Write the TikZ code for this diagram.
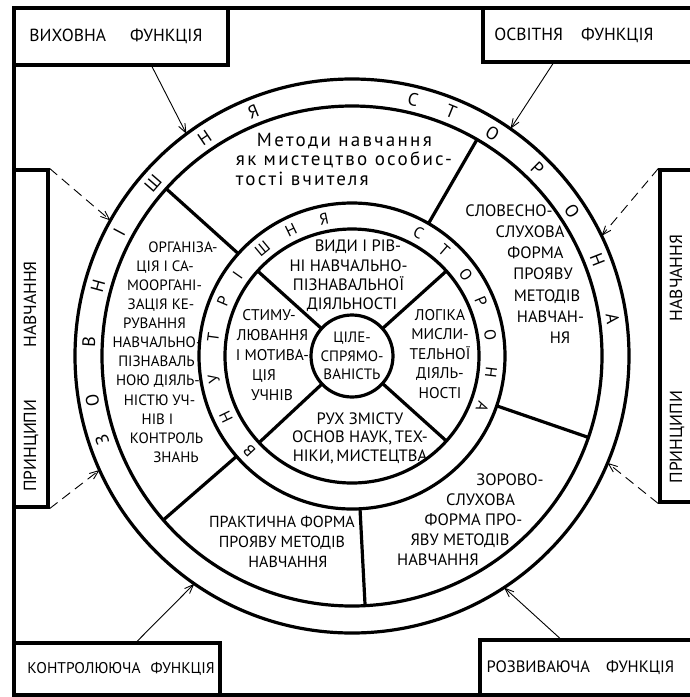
\documentclass[tikz,border=0pt]{standalone}
\usepackage{fontspec}
\setmainfont{PT Sans}
\usetikzlibrary{arrows.meta}

% shift one line of a centred block sideways
\newcommand{\mv}[2]{\hspace*{#1pt}#2\hspace*{-#1pt}}

\tikzset{
  ring/.style={line width=3.2pt},
  sectxt/.style={font=\fontsize{16}{20}\selectfont, align=center, inner sep=0pt},
  ringchar/.style={font=\fontsize{18}{18}\selectfont, inner sep=0pt},
  funcbox/.style={draw, line width=3.2pt, inner sep=0pt, font=\fontsize{17.5}{17.5}\selectfont},
  arr/.style={line width=0.9pt, -{Straight Barb[length=9pt,width=7pt]}},
  darr/.style={arr, dash pattern=on 10pt off 6pt}
}

\begin{document}
\begin{tikzpicture}[x=1pt, y=-1pt]
  \useasboundingbox (0,0) rectangle (689,697);
  \draw[line width=3.2pt] (14,8) rectangle (705,695);

  % functions and principles
  \node[funcbox, minimum width=214, minimum height=57] (vykh) at (121,36.5) {\mv{-5}{ВИХОВНА\hspace{24pt}ФУНКЦІЯ}};
  \node[funcbox, minimum width=222, minimum height=54] (osvit) at (594,35) {\mv{-20}{ОСВІТНЯ\hspace{18pt}ФУНКЦІЯ}};
  \node[funcbox, minimum width=206, minimum height=52, font=\fontsize{15.5}{15.5}\selectfont] (kontr) at (117,669)
    {\mv{4}{КОНТРОЛЮЮЧА\hspace{10pt}ФУНКЦІЯ}};
  \node[funcbox, minimum width=225, minimum height=55, font=\fontsize{16.5}{16.5}\selectfont] (rozv) at (592.5,667.5)
    {\mv{-12}{РОЗВИВАЮЧА\hspace{16pt}ФУНКЦІЯ}};
  \node[funcbox, rotate=90, minimum width=337, minimum height=34] (prl) at (31,338.5) {\mv{-38}{ПРИНЦИПИ\hspace{52pt}НАВЧАННЯ}};
  \node[funcbox, rotate=90, minimum width=332, minimum height=34] (prr) at (677,336) {\mv{-23}{ПРИНЦИПИ\hspace{70pt}НАВЧАННЯ}};

  % rings and sectors
  \begin{scope}[shift={(352,356)}, yscale=-1]
    \draw[ring] (0,0) circle (277) (0,0) circle (250) (0,0) circle (153) (0,0) circle (127);
    \foreach \a in {60, 138, 221, 273, 341}
      \draw[ring] (\a:153) -- (\a:250);
    \foreach \a in {42, 138, 223, 318}
      \draw[ring] (\a:41) -- (\a:127);
    \node[draw, circle, ring, minimum size=82, inner sep=0pt, align=center,
      font=\fontsize{15}{18.5}\selectfont] (goal) at (0,0) {ЦІЛЕ-\\СПРЯМО-\\ВАНІСТЬ};

    \foreach \a/\l [count=\i] in {198.5/З, 189.7/О, 177/В, 164.6/Н, 152/І, 139/Ш, 124/Н, 112/Я,
        76.6/С, 67.9/Т, 57.8/О, 45.3/Р, 33.4/О, 21.4/Н, 8.2/А}
      \node[ringchar, rotate=\a-90] (zo\i) at (\a:263.5) {\l};
    \foreach \a/\l [count=\i] in {222.8/В, 205.9/Н, 189.6/У, 172.5/Т, 157/Р, 144.8/І, 129.8/Ш, 115.8/Н, 101.6/Я,
        61.6/С, 48.9/Т, 35.6/О, 22.8/Р, 8.8/О, -6.6/Н, -21.4/А}
      \node[ringchar, font=\fontsize{16}{16}\selectfont, rotate=\a-90] (vn\i) at (\a:140) {\l};

    \coordinate (e1) at (126.7:277);
    \coordinate (e2) at (55.1:277);
    \coordinate (e3) at (235.3:277);
    \coordinate (e4) at (303.3:277);
    \coordinate (e5) at (150.7:277);
    \coordinate (e6) at (204.3:277);
    \coordinate (e7) at (25.7:277);
    \coordinate (e8) at (337.3:277);
  \end{scope}

  % outer sectors
  \node[sectxt, align=left, font=\fontsize{19}{19.5}\selectfont\addfontfeatures{LetterSpace=12}] (metody) at (344,159)
    {\hspace*{21pt}Методи навчання\\ як мистецтво особис-\\ тості вчителя};
  \node[sectxt, font=\fontsize{16.5}{21.2}\selectfont] (slovesno) at (540,274)
    {\mv{-31}{СЛОВЕСНО-}\\ \mv{-20}{СЛУХОВА}\\ \mv{-9}{ФОРМА}\\ \mv{6}{ПРОЯВУ}\\ \mv{14}{МЕТОДІВ}\\ \mv{21}{НАВЧАН-}\\ \mv{20}{НЯ}};
  \node[sectxt, font=\fontsize{16.5}{20}\selectfont] (zorovo) at (470,520)
    {\mv{40}{ЗОРОВО-}\\ \mv{21}{СЛУХОВА}\\ \mv{7}{ФОРМА ПРО-}\\ \mv{-20}{ЯВУ МЕТОДІВ}\\ \mv{-32}{НАВЧАННЯ}};
  \node[sectxt] (praktychna) at (282,542) {ПРАКТИЧНА ФОРМА\\ ПРОЯВУ МЕТОДІВ\\ \mv{6}{НАВЧАННЯ}};
  \node[sectxt, font=\fontsize{15}{19.1}\selectfont] (orhan) at (162,352)
    {\mv{21}{ОРГАНІЗА-}\\ \mv{6}{ЦІЯ І СА-}\\ \mv{5}{МООРГАНІ-}\\ \mv{-2}{ЗАЦІЯ КЕ-}\\ \mv{-15}{РУВАННЯ}\\
     \mv{-10}{НАВЧАЛЬНО-}\\ \mv{-11}{ПІЗНАВАЛЬ}\\ \mv{-8}{НОЮ ДІЯЛЬ-}\\ \mv{-5}{НІСТЮ УЧ-}\\ \mv{-9}{НІВ І}\\
     \mv{9}{КОНТРОЛЬ}\\ \mv{14}{ЗНАНЬ}};

  % inner sectors
  \node[sectxt, font=\fontsize{16.5}{19.3}\selectfont] (vydy) at (350,276)
    {\mv{8}{ВИДИ І РІВ-}\\ \mv{-3}{НІ НАВЧАЛЬНО-}\\ \mv{-3}{ПІЗНАВАЛЬНОЇ}\\ \mv{2}{ДІЯЛЬНОСТІ}};
  \node[sectxt, font=\fontsize{15.5}{20}\selectfont] (stymul) at (271,355)
    {\mv{-2}{СТИМУ-}\\ \mv{3}{ЛЮВАННЯ}\\ \mv{3}{І МОТИВА-}\\ \mv{-14}{ЦІЯ}\\ \mv{1}{УЧНІВ}};
  \node[sectxt, font=\fontsize{15.5}{19.5}\selectfont] (lohika) at (440,354)
    {ЛОГІКА\\ МИСЛИ-\\ ТЕЛЬНОЇ\\ ДІЯЛЬ-\\ НОСТІ};
  \node[sectxt, font=\fontsize{16.5}{18.5}\selectfont] (rukh) at (360,438)
    {РУХ ЗМІСТУ\\ ОСНОВ НАУК,\,ТЕХ-\\ НІКИ,\,МИСТЕЦТВА};

  % links
  \draw[arr] ([xshift=31]vykh.south) -- (e1);
  \draw[arr] ([xshift=-41]osvit.south) -- (e2);
  \draw[arr] ([xshift=20]kontr.north) -- (e3);
  \draw[arr] ([xshift=-32.5]rozv.north) -- (e4);
  \draw[darr] (prl.south east) -- (e5);
  \draw[darr] (prl.south west) -- (e6);
  \draw[darr] (prr.north east) -- (e7);
  \draw[darr] (prr.north west) -- (e8);
\end{tikzpicture}
\end{document}
